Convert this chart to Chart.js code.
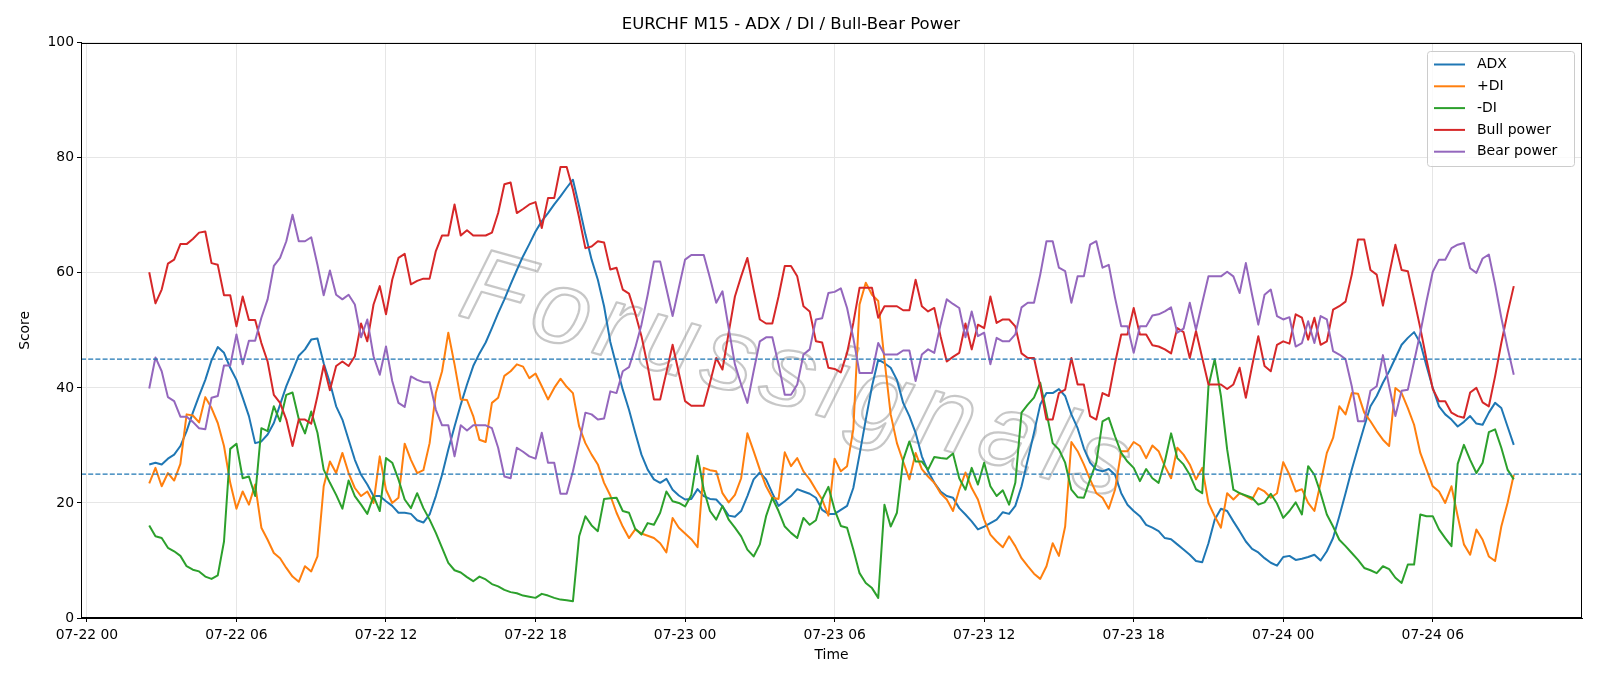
<!DOCTYPE html>
<html lang="en">
<head>
    <meta charset="UTF-8">
    <title>EURCHF M15 - ADX / DI / Bull-Bear Power</title>
    <script src="https://cdn.jsdelivr.net/npm/chart.js@4.4.1/dist/chart.umd.min.js"></script>
    <style>
        html, body {
            margin: 0;
            padding: 0;
            background: #fff;
        }
        #wrap {
            width: 1600px;
            height: 686px;
        }
    </style>
</head>
<body>
    <div id="wrap"><canvas id="chart" width="1600" height="686"></canvas></div>

    <script>
        // M15 bars, time in hours from 07-22 00:00
        const startHour = 2.5;
        const stepHours = 0.25;

        const tickHours = [0, 6, 12, 18, 24, 30, 36, 42, 48, 54];
        const tickLabels = ['07-22 00', '07-22 06', '07-22 12', '07-22 18', '07-23 00',
                            '07-23 06', '07-23 12', '07-23 18', '07-24 00', '07-24 06'];
        const levels = [45, 25];

        const adx = [
            26.7, 27.0, 26.7, 27.7, 28.4, 29.9, 32.5, 35.7, 38.6, 41.4,
            44.8, 47.1, 46.1, 43.5, 41.4, 38.3, 35.1, 30.4, 30.7, 31.9,
            33.9, 37.1, 40.3, 42.9, 45.6, 46.7, 48.4, 48.6, 44.3, 40.9,
            36.8, 34.5, 31.0, 27.5, 24.9, 23.2, 21.2, 21.2, 20.3, 19.5,
            18.3, 18.3, 18.1, 17.0, 16.6, 18.0, 21.2, 24.9, 29.3, 33.3,
            37.1, 40.6, 43.8, 46.0, 47.9, 50.4, 53.0, 55.4, 58.0, 60.5,
            62.9, 65.0, 67.2, 69.0, 70.4, 71.9, 73.3, 74.8, 76.2, 71.6,
            66.7, 62.3, 58.8, 54.2, 48.0, 43.8, 39.7, 36.2, 32.2, 28.4,
            25.8, 24.1, 23.5, 24.2, 22.3, 21.3, 20.6, 20.7, 22.4, 21.2,
            20.7, 20.6, 19.4, 17.8, 17.6, 18.6, 21.2, 24.1, 25.3, 24.1,
            21.7, 19.5, 20.3, 21.2, 22.4, 22.0, 21.6, 20.9, 18.8, 18.1,
            18.1, 18.8, 19.5, 22.6, 28.4, 34.5, 40.3, 44.9, 44.3, 43.5,
            41.4, 37.4, 35.1, 32.2, 28.1, 25.5, 23.5, 22.0, 21.2, 20.9,
            19.1, 18.0, 16.8, 15.4, 15.9, 16.5, 17.1, 18.4, 18.1, 19.5,
            22.9, 27.5, 32.2, 37.1, 39.1, 39.1, 39.8, 38.6, 35.4, 33.0,
            29.5, 27.0, 25.8, 25.5, 25.9, 24.9, 21.7, 19.7, 18.6, 17.7,
            16.2, 15.7, 15.1, 13.9, 13.7, 12.8, 11.9, 11.0, 9.9, 9.7,
            13.0, 17.1, 19.0, 18.6, 16.8, 15.1, 13.3, 12.0, 11.4, 10.4,
            9.6, 9.1, 10.6, 10.8, 10.1, 10.3, 10.6, 11.0, 10.0, 11.6,
            13.9, 17.7, 21.7, 25.8, 29.6, 33.3, 36.8, 38.6, 40.9, 42.9,
            45.2, 47.5, 48.7, 49.7, 47.8, 43.8, 40.0, 36.8, 35.4, 34.5,
            33.3, 34.1, 35.1, 33.8, 33.6, 35.7, 37.4, 36.5, 33.3, 30.1
        ];

        const plusDi = [
            23.4, 26.1, 22.9, 25.2, 23.9, 26.8, 35.4, 35.2, 34.0, 38.4,
            36.5, 33.9, 29.9, 23.5, 19.0, 22.0, 19.7, 23.2, 15.7, 13.6,
            11.3, 10.4, 8.7, 7.2, 6.3, 9.0, 8.1, 10.7, 22.9, 27.2,
            25.2, 28.7, 25.2, 22.6, 21.2, 22.0, 20.0, 28.1, 22.3, 20.0,
            20.9, 30.3, 27.5, 25.2, 25.7, 30.4, 39.1, 42.9, 49.6, 44.1,
            38.0, 37.9, 35.1, 31.0, 30.6, 37.4, 38.3, 42.1, 42.9, 44.1,
            43.7, 41.7, 42.5, 40.3, 38.0, 40.0, 41.6, 40.2, 39.1, 33.3,
            30.4, 28.4, 26.7, 23.5, 21.3, 18.3, 15.9, 13.9, 15.4, 14.7,
            14.3, 13.9, 13.0, 11.4, 17.4, 15.7, 14.7, 13.7, 12.3, 26.1,
            25.7, 25.5, 21.7, 20.1, 21.4, 24.3, 32.1, 29.0, 25.8, 22.9,
            20.9, 20.7, 28.8, 26.4, 27.8, 25.5, 24.1, 22.3, 20.6, 17.8,
            27.7, 25.5, 26.4, 32.8, 54.5, 58.3, 56.2, 55.1, 44.9, 35.4,
            30.4, 27.2, 24.1, 28.7, 25.9, 24.6, 23.5, 21.7, 20.6, 18.6,
            22.3, 25.3, 22.6, 20.6, 17.1, 14.5, 13.3, 12.3, 14.2, 12.5,
            10.4, 9.0, 7.7, 6.8, 9.0, 13.0, 10.8, 15.9, 30.6, 29.0,
            26.7, 24.1, 21.7, 20.9, 19.0, 22.3, 29.0, 29.0, 30.6, 29.9,
            27.8, 30.0, 29.0, 26.4, 24.3, 29.6, 28.4, 26.7, 24.1, 26.1,
            20.0, 17.7, 15.7, 21.7, 20.6, 21.7, 21.2, 20.6, 22.6, 22.0,
            20.9, 21.7, 27.1, 24.9, 22.0, 22.4, 20.0, 18.6, 23.5, 28.7,
            31.3, 36.8, 35.4, 39.1, 39.0, 35.7, 34.2, 32.5, 31.0, 29.9,
            40.0, 39.1, 36.5, 33.6, 28.7, 25.8, 22.9, 22.0, 20.0, 22.9,
            17.7, 12.8, 11.0, 15.4, 13.6, 10.7, 9.9, 15.9, 20.0, 24.9
        ];

        const minusDi = [
            16.1, 14.2, 13.9, 12.2, 11.6, 10.8, 9.0, 8.4, 8.1, 7.2,
            6.8, 7.4, 13.3, 29.4, 30.3, 24.3, 24.6, 21.2, 33.0, 32.5,
            36.8, 34.2, 38.8, 39.2, 34.6, 32.1, 35.9, 32.2, 25.8, 23.5,
            21.4, 19.0, 23.9, 21.2, 19.7, 18.1, 21.2, 18.6, 27.8, 27.0,
            24.1, 20.6, 19.1, 21.7, 19.1, 17.1, 14.8, 12.2, 9.6, 8.3,
            7.9, 7.1, 6.4, 7.2, 6.7, 5.9, 5.5, 4.9, 4.5, 4.3,
            3.9, 3.7, 3.5, 4.2, 3.9, 3.5, 3.2, 3.1, 2.9, 14.2,
            17.7, 16.1, 15.1, 20.7, 20.8, 20.9, 18.6, 18.3, 15.5, 14.5,
            16.5, 16.2, 18.3, 22.0, 20.3, 20.0, 19.4, 21.4, 28.2, 22.3,
            18.6, 17.1, 19.5, 17.1, 15.7, 14.2, 11.9, 10.7, 12.8, 17.7,
            20.9, 18.6, 15.9, 14.8, 13.9, 17.4, 16.2, 17.0, 20.6, 22.8,
            18.8, 16.0, 15.7, 11.9, 7.8, 6.1, 5.2, 3.5, 19.7, 15.9,
            18.3, 27.5, 30.7, 27.2, 27.2, 25.8, 28.0, 27.8, 27.7, 28.6,
            24.3, 22.3, 26.1, 23.2, 27.0, 22.9, 21.2, 22.2, 19.7, 23.5,
            35.7, 37.1, 38.3, 40.9, 35.7, 30.4, 29.3, 27.0, 22.3, 21.0,
            20.9, 24.1, 27.0, 34.2, 34.8, 31.6, 28.7, 27.2, 26.1, 23.8,
            25.9, 24.3, 23.5, 27.2, 32.1, 27.8, 26.7, 24.9, 22.4, 21.7,
            40.3, 45.0, 38.6, 29.3, 22.3, 21.7, 21.3, 20.9, 19.7, 20.1,
            21.6, 19.9, 17.4, 18.6, 20.1, 18.0, 26.4, 24.9, 21.7, 18.0,
            15.9, 13.6, 12.5, 11.3, 10.1, 8.7, 8.3, 7.8, 9.0, 8.5,
            7.0, 6.1, 9.3, 9.3, 18.0, 17.7, 17.7, 15.4, 13.9, 12.5,
            26.8, 30.1, 27.5, 25.2, 27.0, 32.3, 32.8, 29.6, 25.8, 24.1
        ];

        const bullPower = [
            60.1, 54.7, 57.1, 61.6, 62.3, 65.0, 65.0, 65.9, 67.0, 67.2,
            61.7, 61.4, 56.1, 56.1, 50.7, 55.9, 51.8, 51.8, 47.8, 44.6,
            38.8, 37.4, 34.5, 29.9, 34.5, 34.5, 33.8, 38.6, 43.9, 39.6,
            43.8, 44.6, 43.8, 45.5, 51.2, 48.1, 54.5, 57.7, 52.8, 58.8,
            62.6, 63.3, 58.0, 58.6, 59.0, 59.0, 63.8, 66.5, 66.5, 71.9,
            66.5, 67.4, 66.5, 66.5, 66.5, 67.0, 70.4, 75.4, 75.7, 70.4,
            71.1, 71.9, 72.3, 67.8, 73.0, 73.0, 78.4, 78.4, 74.5, 69.6,
            64.3, 64.6, 65.5, 65.3, 60.6, 60.9, 57.1, 56.4, 53.0, 49.0,
            43.8, 38.0, 38.0, 42.7, 47.5, 42.6, 37.7, 36.9, 36.9, 36.9,
            40.9, 45.2, 43.2, 49.6, 55.9, 59.4, 62.6, 57.1, 51.9, 51.2,
            51.2, 55.9, 61.2, 61.2, 59.4, 54.2, 53.3, 48.1, 47.9, 43.5,
            43.3, 42.7, 46.1, 51.3, 57.4, 57.4, 57.4, 52.2, 54.2, 54.2,
            54.2, 53.5, 53.5, 58.8, 54.2, 53.3, 53.9, 49.0, 44.6, 45.4,
            46.1, 51.2, 46.7, 51.0, 50.4, 55.9, 51.3, 51.9, 51.9, 50.7,
            46.0, 45.2, 45.2, 40.3, 34.5, 34.5, 39.1, 39.7, 45.2, 40.6,
            40.6, 35.1, 34.5, 39.1, 38.6, 44.3, 49.3, 49.3, 53.9, 49.3,
            49.3, 47.4, 47.2, 46.7, 46.0, 50.4, 49.7, 45.2, 49.9, 45.2,
            40.6, 40.6, 40.6, 39.8, 40.6, 43.5, 38.3, 43.8, 49.0, 43.8,
            42.9, 47.5, 48.1, 47.7, 52.8, 52.2, 48.4, 52.2, 47.5, 48.1,
            53.6, 54.2, 55.0, 59.7, 65.8, 65.8, 60.5, 59.7, 54.3, 59.7,
            64.9, 60.5, 60.3, 55.4, 50.4, 44.9, 39.8, 37.7, 37.7, 35.7,
            35.1, 34.8, 39.2, 40.0, 37.5, 36.8, 42.0, 47.8, 53.0, 57.7
        ];

        const bearPower = [
            39.9, 45.3, 42.9, 38.4, 37.7, 35.0, 35.0, 34.1, 33.0, 32.8,
            38.3, 38.6, 43.9, 43.9, 49.3, 44.1, 48.2, 48.2, 52.2, 55.4,
            61.2, 62.6, 65.5, 70.1, 65.5, 65.5, 66.2, 61.4, 56.1, 60.4,
            56.2, 55.4, 56.2, 54.5, 48.8, 51.9, 45.5, 42.3, 47.2, 41.2,
            37.4, 36.7, 42.0, 41.4, 41.0, 41.0, 36.2, 33.5, 33.5, 28.1,
            33.5, 32.6, 33.5, 33.5, 33.5, 33.0, 29.6, 24.6, 24.3, 29.6,
            28.9, 28.1, 27.7, 32.2, 27.0, 27.0, 21.6, 21.6, 25.5, 30.4,
            35.7, 35.4, 34.5, 34.7, 39.4, 39.1, 42.9, 43.6, 47.0, 51.0,
            56.2, 62.0, 62.0, 57.3, 52.5, 57.4, 62.3, 63.1, 63.1, 63.1,
            59.1, 54.8, 56.8, 50.4, 44.1, 40.6, 37.4, 42.9, 48.1, 48.8,
            48.8, 44.1, 38.8, 38.8, 40.6, 45.8, 46.7, 51.9, 52.1, 56.5,
            56.7, 57.3, 53.9, 48.7, 42.6, 42.6, 42.6, 47.8, 45.8, 45.8,
            45.8, 46.5, 46.5, 41.2, 45.8, 46.7, 46.1, 51.0, 55.4, 54.6,
            53.9, 48.8, 53.3, 49.0, 49.6, 44.1, 48.7, 48.1, 48.1, 49.3,
            54.0, 54.8, 54.8, 59.7, 65.5, 65.5, 60.9, 60.3, 54.8, 59.4,
            59.4, 64.9, 65.5, 60.9, 61.4, 55.7, 50.7, 50.7, 46.1, 50.7,
            50.7, 52.6, 52.8, 53.3, 54.0, 49.6, 50.3, 54.8, 50.1, 54.8,
            59.4, 59.4, 59.4, 60.2, 59.4, 56.5, 61.7, 56.2, 51.0, 56.2,
            57.1, 52.5, 51.9, 52.3, 47.2, 47.8, 51.6, 47.8, 52.5, 51.9,
            46.4, 45.8, 45.0, 40.3, 34.2, 34.2, 39.5, 40.3, 45.7, 40.3,
            35.1, 39.5, 39.7, 44.6, 49.6, 55.1, 60.2, 62.3, 62.3, 64.3,
            64.9, 65.2, 60.8, 60.0, 62.5, 63.2, 58.0, 52.2, 47.0, 42.3
        ];

        const seriesNames = ['ADX', '+DI', '-DI', 'Bull power', 'Bear power'];
        const seriesColors = ['#1f77b4', '#ff7f0e', '#2ca02c', '#d62728', '#9467bd'];
        const seriesValues = [adx, plusDi, minusDi, bullPower, bearPower];

        const times = adx.map((_, i) => startHour + i * stepHours);
        const span = times[times.length - 1] - times[0];
        const xMin = times[0] - 0.05 * span;
        const xMax = times[times.length - 1] + 0.05 * span;

        const FONT = '"DejaVu Sans", Verdana, sans-serif';

        const datasets = seriesValues.map((vals, k) => ({
            label: seriesNames[k],
            data: vals.map((v, i) => ({ x: times[i], y: v })),
            borderColor: seriesColors[k],
            backgroundColor: seriesColors[k],
            borderWidth: 2,
            pointRadius: 0,
            tension: 0,
            fill: false,
            borderJoinStyle: 'round',
            order: 5 - k
        }));
        levels.forEach(lv => {
            datasets.push({
                label: 'level ' + lv,
                data: [{ x: xMin, y: lv }, { x: xMax, y: lv }],
                borderColor: '#1f77b4',
                borderWidth: 1.3,
                borderDash: [5, 2.2],
                pointRadius: 0,
                fill: false,
                order: 0
            });
        });

        // faint outlined watermark behind the lines
        const watermark = {
            id: 'watermark',
            beforeDatasetsDraw(chart) {
                const c = chart.ctx;
                c.save();
                c.translate(792, 408);
                c.rotate(15.5 * Math.PI / 180);
                c.font = 'italic 104px "Liberation Sans", Arial, sans-serif';
                c.letterSpacing = '9px';
                c.strokeStyle = 'rgba(130, 130, 130, 0.45)';
                c.lineWidth = 2.2;
                c.lineJoin = 'round';
                c.textAlign = 'center';
                c.textBaseline = 'alphabetic';
                c.strokeText('Forussignals', 0, 0);
                c.restore();
            }
        };

        // full box spines + legend in the upper right
        const frameAndLegend = {
            id: 'frameAndLegend',
            afterDraw(chart) {
                const c = chart.ctx;
                const a = chart.chartArea;
                c.save();
                c.strokeStyle = '#000';
                c.lineWidth = 1;
                c.strokeRect(Math.round(a.left) + 0.5, Math.round(a.top) + 0.5,
                             Math.round(a.right - a.left) - 1, Math.round(a.bottom - a.top) - 1);

                const bx = 1427, by = 51, bw = 147, bh = 115;
                c.beginPath();
                c.roundRect(bx + 0.5, by + 0.5, bw, bh, 3);
                c.fillStyle = 'rgba(255,255,255,0.8)';
                c.fill();
                c.strokeStyle = '#cccccc';
                c.lineWidth = 1;
                c.stroke();

                c.font = '14px ' + FONT;
                c.textBaseline = 'middle';
                c.textAlign = 'left';
                seriesNames.forEach((name, k) => {
                    const y = 64.5 + k * 21.8;
                    c.beginPath();
                    c.moveTo(1434, y);
                    c.lineTo(1465, y);
                    c.strokeStyle = seriesColors[k];
                    c.lineWidth = 2;
                    c.stroke();
                    c.fillStyle = '#000';
                    c.fillText(name, 1477, y);
                });
                c.restore();
            }
        };

        new Chart(document.getElementById('chart'), {
            type: 'line',
            data: { datasets },
            options: {
                responsive: false,
                animation: false,
                events: [],
                layout: { padding: { left: 0, right: 18, top: 0, bottom: 0 } },
                plugins: {
                    legend: { display: false },
                    tooltip: { enabled: false },
                    title: {
                        display: true,
                        text: 'EURCHF M15 - ADX / DI / Bull-Bear Power',
                        color: '#000',
                        font: { family: FONT, size: 16.5, weight: 'normal' },
                        padding: { top: 15, bottom: 8 }
                    }
                },
                scales: {
                    x: {
                        type: 'linear',
                        min: xMin,
                        max: xMax,
                        afterFit(scale) { scale.height = 68; },
                        afterBuildTicks(scale) {
                            scale.ticks = tickHours.map(v => ({ value: v }));
                        },
                        ticks: {
                            color: '#000',
                            font: { family: FONT, size: 13.9 },
                            padding: 5,
                            maxRotation: 0,
                            autoSkip: false,
                            callback: (v, i) => tickLabels[i]
                        },
                        grid: {
                            color: '#e6e6e6',
                            lineWidth: 1,
                            tickColor: '#000',
                            tickLength: 4
                        },
                        border: { color: '#000', width: 1 },
                        title: {
                            display: true,
                            text: 'Time',
                            color: '#000',
                            font: { family: FONT, size: 13.9 },
                            padding: { top: 0, bottom: 22 }
                        }
                    },
                    y: {
                        min: 0,
                        max: 100,
                        afterFit(scale) { scale.width = 81; },
                        ticks: {
                            stepSize: 20,
                            color: '#000',
                            font: { family: FONT, size: 13.9 },
                            padding: 3
                        },
                        grid: {
                            color: '#e6e6e6',
                            lineWidth: 1,
                            tickColor: '#000',
                            tickLength: 4
                        },
                        border: { color: '#000', width: 1 },
                        title: {
                            display: true,
                            text: 'Score',
                            color: '#000',
                            font: { family: FONT, size: 13.9 },
                            padding: { top: 17, bottom: 0 }
                        }
                    }
                }
            },
            plugins: [watermark, frameAndLegend]
        });
    </script>
</body>
</html>
